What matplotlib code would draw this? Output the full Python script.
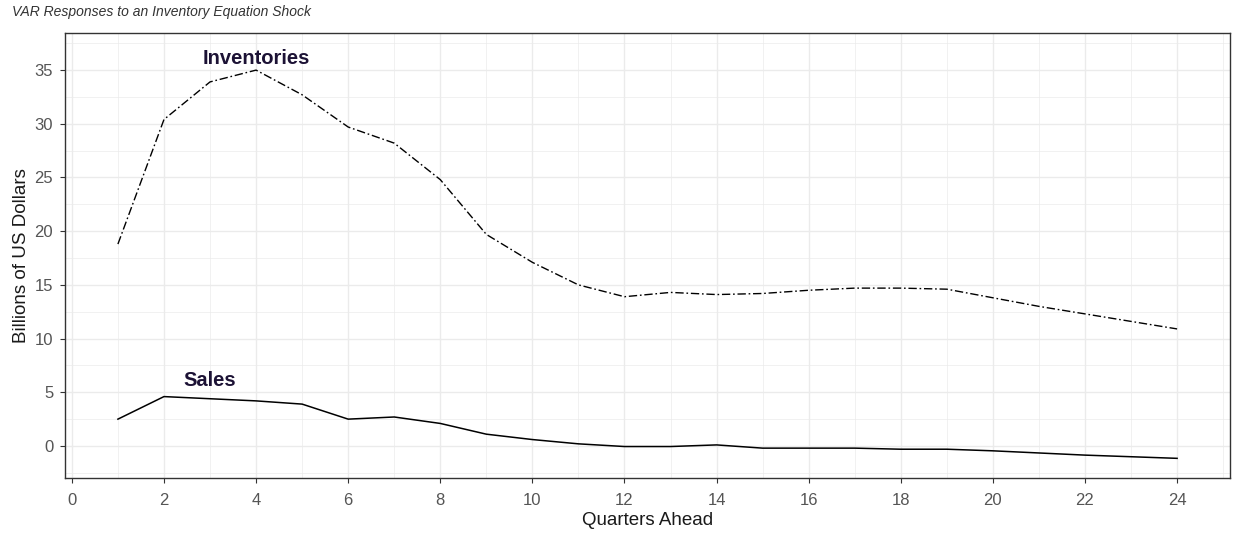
import numpy as np
import matplotlib.pyplot as plt
from matplotlib.ticker import MultipleLocator

plt.rcParams['font.family'] = ['Liberation Sans', 'DejaVu Sans']

# 24 quarters of impulse responses
quarters = list(range(1, 25))
inventories = [18.8, 30.4, 33.9, 35.0, 32.7, 29.7, 28.2, 24.8, 19.7, 17.1, 15.0, 13.9,
               14.3, 14.1, 14.2, 14.5, 14.7, 14.7, 14.6, 13.8, 13.0, 12.3, 11.6, 10.9]
sales = [2.5, 4.6, 4.4, 4.2, 3.9, 2.5, 2.7, 2.1, 1.1, 0.6, 0.2, -0.05,
         -0.05, 0.1, -0.2, -0.2, -0.2, -0.3, -0.3, -0.45, -0.65, -0.85, -1.0, -1.15]

# label text and anchors
labels = ['Inventories', 'Sales']
label_x = [4.0, 3.0]
label_y = [36.1, 6.1]

fig = plt.figure(figsize=(12.35, 5.33), dpi=100)
ax = fig.add_axes([0.0526, 0.1032, 0.9434, 0.8348])

ax.plot(quarters, inventories, color='black', lw=1.0, linestyle=(0, (6, 2, 1.2, 2)))
ax.plot(quarters, sales, color='black', lw=1.1, linestyle='-')

for t, lx, ly in zip(labels, label_x, label_y):
    ax.text(lx, ly, t, ha='center', va='center', fontsize=14.5, fontweight='bold',
            color='#1c1235')

ax.set_xlim(-0.15, 25.15)
ax.set_ylim(-2.98, 38.45)
ax.xaxis.set_major_locator(MultipleLocator(2))
ax.xaxis.set_minor_locator(MultipleLocator(1))
ax.yaxis.set_major_locator(MultipleLocator(5))
ax.yaxis.set_minor_locator(MultipleLocator(2.5))

# theme_bw look
ax.grid(which='major', color='#ebebeb', lw=1.0)
ax.grid(which='minor', color='#ebebeb', lw=0.5)
ax.set_axisbelow(True)
for s in ax.spines.values():
    s.set_color('#333333')
    s.set_linewidth(1.0)
ax.tick_params(which='major', length=3.5, width=0.8, color='#333333',
               labelcolor='#555555', labelsize=12)
ax.tick_params(axis='x', pad=7)
ax.tick_params(axis='y', pad=5)
ax.tick_params(which='minor', length=0)

ax.set_xlabel('Quarters Ahead', fontsize=13.5, color='#1a1a1a', labelpad=3)
ax.set_ylabel('Billions of US Dollars', fontsize=13.5, color='#1a1a1a', labelpad=3)
fig.text(0.0097, 0.977, 'VAR Responses to an Inventory Equation Shock', fontsize=10,
         style='italic', color='#333333', ha='left', va='center')

fig.savefig('out.png', dpi=100)
